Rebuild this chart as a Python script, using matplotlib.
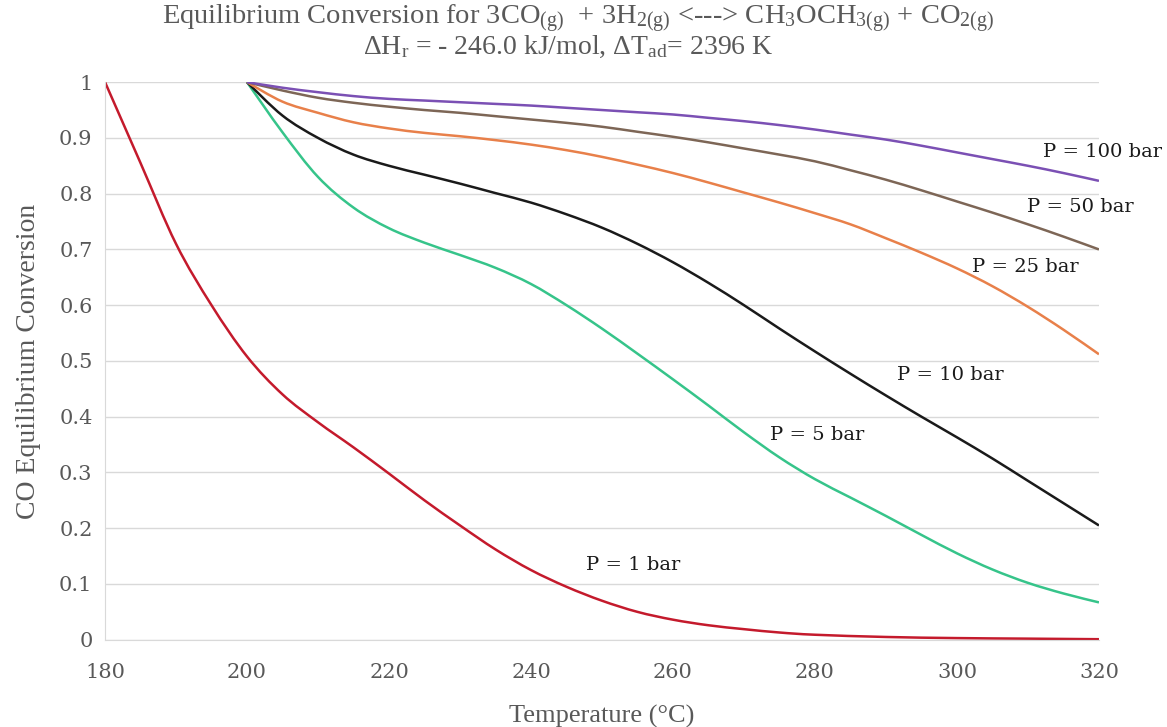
import matplotlib
matplotlib.use("Agg")
import matplotlib.pyplot as plt
from matplotlib.path import Path
from matplotlib.patches import PathPatch
import numpy as np

plt.rcParams['font.family'] = ['Liberation Serif', 'DejaVu Serif']
plt.rcParams['mathtext.default'] = 'regular'

# temperatures (C) and equilibrium conversion
T_1bar = [180, 185, 190, 195, 200, 205, 210, 215, 220, 225, 230, 235, 240, 245, 250,
          255, 260, 265, 270, 275, 280, 290, 300, 310, 320]
X_1bar = [1.0, 0.855, 0.71, 0.6, 0.508, 0.44, 0.39, 0.345, 0.298, 0.25, 0.205, 0.162, 0.125,
          0.095, 0.07, 0.05, 0.036, 0.026, 0.019, 0.013, 0.009, 0.005, 0.003, 0.002, 0.001]

T_hi = [200, 205, 210, 215, 220, 225, 230, 235, 240, 245, 250, 255, 260, 265, 270,
        275, 280, 285, 290, 295, 300, 305, 310, 315, 320]
X_5bar = [1.0, 0.91, 0.83, 0.775, 0.738, 0.712, 0.69, 0.667, 0.638, 0.60, 0.558, 0.513,
          0.467, 0.42, 0.372, 0.327, 0.288, 0.255, 0.222, 0.188, 0.155, 0.126, 0.102, 0.083, 0.067]
X_10bar = [1.0, 0.94, 0.90, 0.87, 0.85, 0.834, 0.818, 0.801, 0.784, 0.763, 0.739, 0.71,
           0.677, 0.64, 0.60, 0.558, 0.517, 0.477, 0.438, 0.40, 0.363, 0.325, 0.285, 0.245, 0.205]
X_25bar = [1.0, 0.965, 0.945, 0.928, 0.917, 0.909, 0.903, 0.896, 0.888, 0.878, 0.866, 0.852,
           0.837, 0.82, 0.802, 0.784, 0.765, 0.745, 0.72, 0.694, 0.666, 0.634, 0.597, 0.556, 0.512]
X_50bar = [1.0, 0.985, 0.972, 0.963, 0.956, 0.95, 0.945, 0.939, 0.933, 0.927, 0.92, 0.911,
           0.902, 0.892, 0.881, 0.87, 0.858, 0.842, 0.825, 0.806, 0.786, 0.766, 0.745, 0.723, 0.70]
X_100bar = [1.0, 0.99, 0.982, 0.975, 0.97, 0.967, 0.964, 0.961, 0.958, 0.954, 0.95, 0.946,
            0.942, 0.936, 0.93, 0.923, 0.915, 0.906, 0.897, 0.886, 0.874, 0.862, 0.85, 0.837, 0.823]

series = [
    (T_1bar, X_1bar, '#c41a2c', 'P = 1 bar', 247.7, 0.134),
    (T_hi, X_5bar, '#36c48a', 'P = 5 bar', 273.7, 0.367),
    (T_hi, X_10bar, '#1a1a1a', 'P = 10 bar', 291.5, 0.475),
    (T_hi, X_25bar, '#e8804a', 'P = 25 bar', 302.1, 0.668),
    (T_hi, X_50bar, '#7d6656', 'P = 50 bar', 309.9, 0.776),
    (T_hi, X_100bar, '#7b50b4', 'P = 100 bar', 312.1, 0.875),
]


# smoothed line like a spreadsheet "smoothed line" (Catmull-Rom as cubic Beziers)
def smooth_path(x, y):
    p = np.column_stack([x, y]).astype(float)
    verts = [p[0]]
    codes = [Path.MOVETO]
    n = len(p)
    for i in range(n - 1):
        p0 = p[i - 1] if i > 0 else p[i]
        p3 = p[i + 2] if i + 2 < n else p[i + 1]
        c1 = p[i] + (p[i + 1] - p0) / 6
        c2 = p[i + 1] - (p3 - p[i]) / 6
        verts += [c1, c2, p[i + 1]]
        codes += [Path.CURVE4] * 3
    return Path(verts, codes)


fig = plt.figure(figsize=(11.67, 7.27), dpi=100)
ax = fig.add_axes([0.09, 0.12, 0.8517, 0.767])

for T, X, c, lab, tx, ty in series:
    ax.add_patch(PathPatch(smooth_path(T, X), fill=False, edgecolor=c, lw=1.8))
    ax.text(tx, ty, lab, fontsize=14, family='DejaVu Serif', color='#1a1a1a',
            ha='left', va='center', clip_on=False)

ax.set_xlim(180, 320)
ax.set_ylim(0, 1)
ax.set_xticks(np.arange(180, 321, 20))
ax.set_yticks(np.arange(0, 1.01, 0.1))
ax.set_yticklabels(['0', '0.1', '0.2', '0.3', '0.4', '0.5', '0.6', '0.7', '0.8', '0.9', '1'])
ax.tick_params(length=0, labelsize=15, labelcolor='#595959')
ax.tick_params(axis='x', pad=17)
ax.tick_params(axis='y', pad=9)
for lbl in ax.get_xticklabels() + ax.get_yticklabels():
    lbl.set_family('DejaVu Serif')
ax.grid(axis='y', color='#d9d9d9', lw=1)
ax.set_axisbelow(True)
for s in ['top', 'right']:
    ax.spines[s].set_visible(False)
for s in ['left', 'bottom']:
    ax.spines[s].set_color('#d9d9d9')

ax.set_xlabel('Temperature (°C)', fontsize=19, color='#595959', labelpad=16)
ax.set_ylabel('CO Equilibrium Conversion', fontsize=20, color='#595959', labelpad=13)

fig.text(0.495, 0.974,
         'Equilibrium Conversion for 3CO$_{(g)}$  + 3H$_{2(g)}$ <---> CH$_3$OCH$_{3(g)}$ + CO$_{2(g)}$',
         fontsize=20.5, color='#595959', ha='center', va='center')
fig.text(0.487, 0.935, 'ΔH$_r$ = - 246.0 kJ/mol, ΔT$_{ad}$= 2396 K',
         fontsize=20, color='#595959', ha='center', va='center')

fig.savefig('out.png', dpi=100)
